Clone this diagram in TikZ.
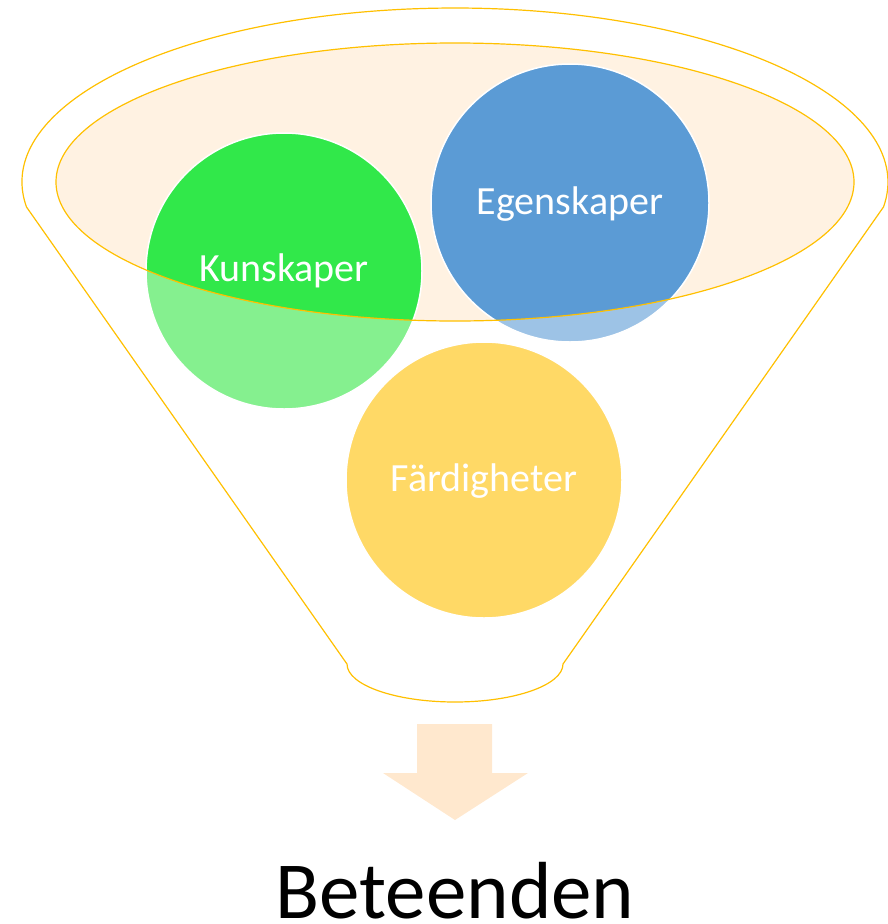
\documentclass[tikz,border=0pt]{standalone}
\usepackage{fontspec}
\setmainfont{Carlito}
\definecolor{rimline}{HTML}{FFC000}
\definecolor{rimfill}{HTML}{FFF2E2}
\definecolor{kgreen}{HTML}{31E84A}
\definecolor{kgreenlt}{HTML}{85F08F}
\definecolor{eblue}{HTML}{5B9BD5}
\definecolor{ebluelt}{HTML}{9DC3E6}
\definecolor{fyellow}{HTML}{FFD966}
\definecolor{arrowfill}{HTML}{FFE8CE}
\tikzset{
  rim/.style={draw=rimline, line width=1.2pt},
  balltext/.style={text=white, font=\fontsize{40}{48}\selectfont},
}
\begin{document}
\begin{tikzpicture}[x=1pt,y=-1pt]
\useasboundingbox (0,0) rectangle (887,924);
% funnel outline
\coordinate (lt) at (26.5,207);
\coordinate (rb) at (563,664);
\draw[rim, fill=white, line join=round] (lt) arc[start angle=188.26, end angle=-8.26, x radius=433pt, y radius=174pt]
  -- (rb) arc[start angle=0, end angle=-180, x radius=108pt, y radius=38pt] -- cycle;
% inner ellipse
\fill[rimfill] (455,182) ellipse [x radius=399pt, y radius=139pt];
% circles, light part
\fill[kgreenlt] (284,271) circle (138pt);
\fill[ebluelt] (570,203) circle (139pt);
\begin{scope}
\clip (455,182) ellipse [x radius=399pt, y radius=139pt];
\fill[kgreen] (284,271) circle (138pt);
\fill[eblue] (570,203) circle (139pt);
\end{scope}
\draw[white, line width=1.5pt] (284,271) circle (138pt);
\draw[white, line width=1.5pt] (570,203) circle (139pt);
\filldraw[fill=fyellow, draw=white, line width=1.5pt] (484,480) circle (138pt);
% inner ellipse outline on top
\draw[rim] (455,182) ellipse [x radius=399pt, y radius=139pt];
% labels
\node[balltext] (kun) at (284,271) {Kunskaper};
\node[balltext] (ege) at (570,204) {Egenskaper};
\node[balltext] (far) at (484,481) {Färdigheter};
% arrow
\fill[arrowfill] (417,724) -- (492,724) -- (492,773) -- (528,773) -- (455,820) -- (383,773) -- (417,773) -- cycle;
\node[font=\fontsize{81}{97}\selectfont, anchor=base] (beh) at (455,918) {Beteenden};
\end{tikzpicture}
\end{document}
